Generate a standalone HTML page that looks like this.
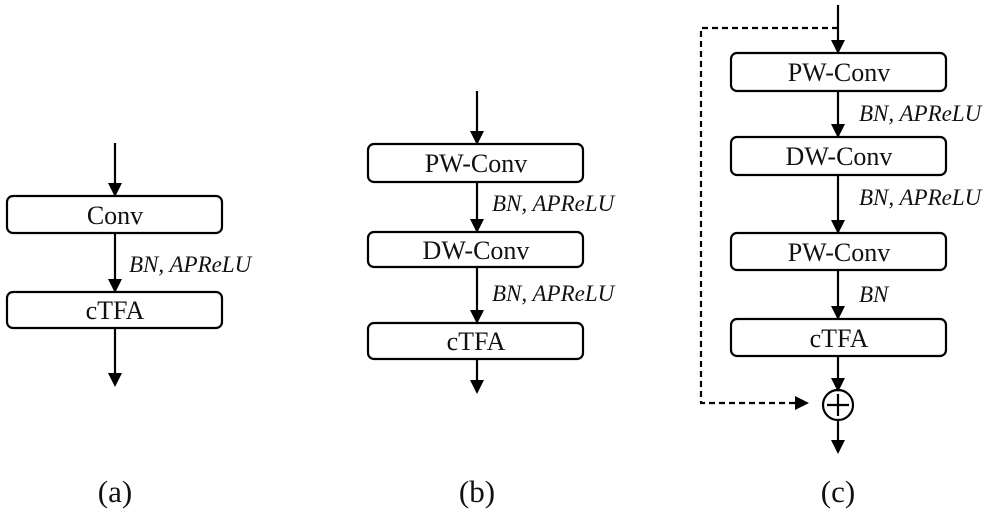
<!DOCTYPE html>
<html><head><meta charset="utf-8"><style>
html,body{margin:0;padding:0;background:#fff;width:996px;height:512px;overflow:hidden}
svg text{font-family:"Liberation Serif",serif;fill:#111}
.b{font-size:26px}
.l{font-size:23px;font-style:italic}
.c{font-size:31px}
</style></head><body>
<svg width="996" height="512" viewBox="0 0 996 512" xmlns="http://www.w3.org/2000/svg">
<defs><marker id="a" markerWidth="14" markerHeight="14" refX="12" refY="7" orient="auto" markerUnits="userSpaceOnUse"><path d="M0,0 L14,7 L0,14 z" fill="#000"/></marker></defs>
<g stroke="#000" stroke-width="2.2" fill="none">
<!-- a -->
<rect x="7" y="196" width="215" height="37" rx="6"/>
<rect x="7" y="292" width="215" height="36" rx="6"/>
<line x1="115" y1="143" x2="115" y2="195" marker-end="url(#a)"/>
<line x1="115" y1="233" x2="115" y2="291" marker-end="url(#a)"/>
<line x1="115" y1="328" x2="115" y2="385" marker-end="url(#a)"/>
<!-- b -->
<rect x="368" y="144" width="215" height="38" rx="6"/>
<rect x="368" y="232" width="215" height="35" rx="6"/>
<rect x="368" y="323" width="215" height="36" rx="6"/>
<line x1="477" y1="91" x2="477" y2="143" marker-end="url(#a)"/>
<line x1="477" y1="182" x2="477" y2="231" marker-end="url(#a)"/>
<line x1="477" y1="267" x2="477" y2="322" marker-end="url(#a)"/>
<line x1="477" y1="359" x2="477" y2="392" marker-end="url(#a)"/>
<!-- c -->
<rect x="731" y="53" width="215" height="38" rx="6"/>
<rect x="731" y="137" width="215" height="38" rx="6"/>
<rect x="731" y="233" width="215" height="37" rx="6"/>
<rect x="731" y="319" width="215" height="37" rx="6"/>
<line x1="838" y1="5" x2="838" y2="52" marker-end="url(#a)"/>
<line x1="838" y1="91" x2="838" y2="136" marker-end="url(#a)"/>
<line x1="838" y1="175" x2="838" y2="232" marker-end="url(#a)"/>
<line x1="838" y1="270" x2="838" y2="318" marker-end="url(#a)"/>
<line x1="838" y1="356" x2="838" y2="390" marker-end="url(#a)"/>
<circle cx="838" cy="405" r="15"/>
<line x1="827" y1="405" x2="849" y2="405"/>
<line x1="838" y1="394" x2="838" y2="416"/>
<line x1="838" y1="420" x2="838" y2="452" marker-end="url(#a)"/>
<polyline points="838,28 701,28 701,403 807,403" stroke-dasharray="6,4" marker-end="url(#a)"/>
</g>
<g text-anchor="middle" class="b">
<text x="115" y="224">Conv</text>
<text x="115" y="319">cTFA</text>
<text x="476" y="172">PW-Conv</text>
<text x="476" y="259">DW-Conv</text>
<text x="476" y="350">cTFA</text>
<text x="839" y="81">PW-Conv</text>
<text x="839" y="165">DW-Conv</text>
<text x="839" y="261">PW-Conv</text>
<text x="839" y="347">cTFA</text>
</g>
<g class="l">
<text x="129" y="272">BN, APReLU</text>
<text x="492" y="211">BN, APReLU</text>
<text x="492" y="301">BN, APReLU</text>
<text x="859" y="121">BN, APReLU</text>
<text x="859" y="205">BN, APReLU</text>
<text x="859" y="302">BN</text>
</g>
<g text-anchor="middle" class="c">
<text x="115" y="502">(a)</text>
<text x="477" y="502">(b)</text>
<text x="838" y="502">(c)</text>
</g>
</svg>
</body></html>
